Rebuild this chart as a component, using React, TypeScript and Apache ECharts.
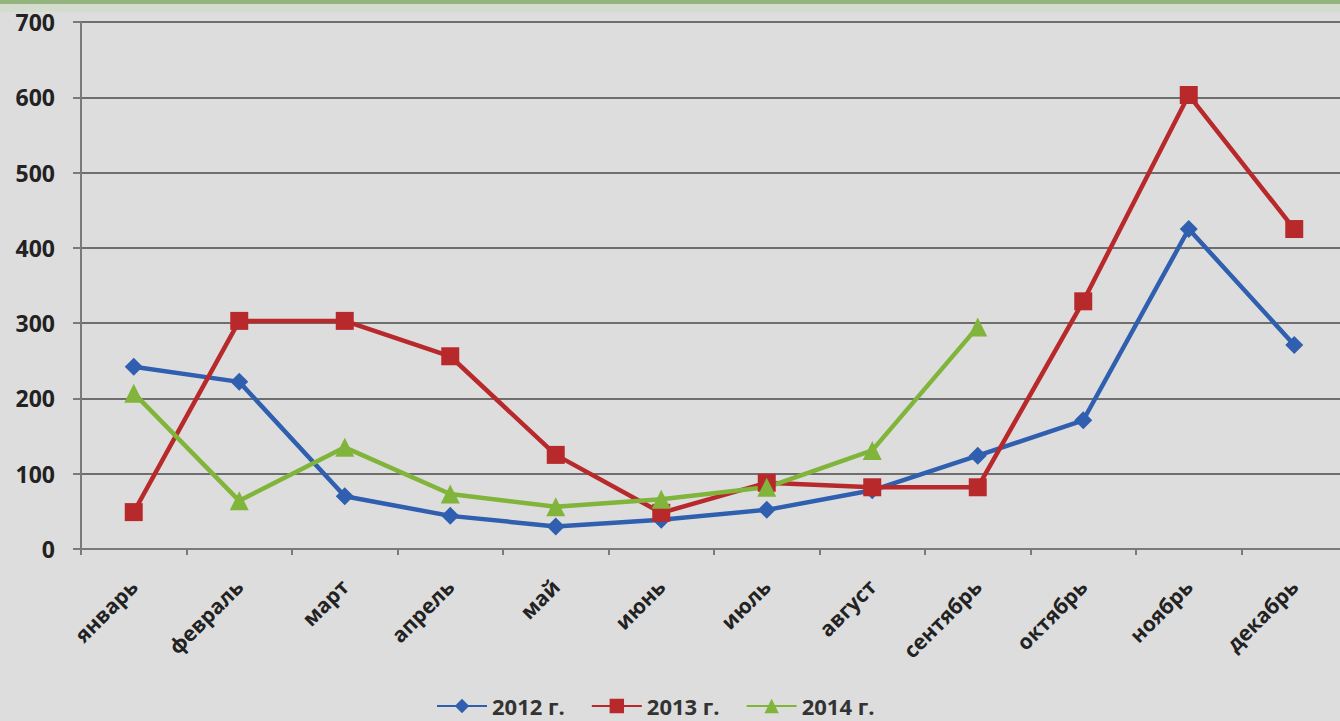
import React, { useEffect, useRef } from "react";
import * as echarts from "echarts";

const months = ["январь", "февраль", "март", "апрель", "май", "июнь", "июль", "август", "сентябрь", "октябрь", "ноябрь", "декабрь"];
const s2012 = [242, 222, 70, 44, 30, 39, 52, 78, 124, 171, 425, 271];
const s2013 = [49, 303, 303, 256, 125, 48, 88, 82, 82, 329, 603, 425];
const s2014 = [207, 64, 135, 73, 56, 66, 82, 131, 295];
const yTicks = [0, 100, 200, 300, 400, 500, 600, 700];

export default function App() {
  const ref = useRef<HTMLDivElement>(null);
  useEffect(() => {
    const chart = echarts.init(ref.current!, null, { renderer: "svg" });
    const font = "'Open Sans', 'DejaVu Sans', sans-serif";
    const mk = (name: string, data: number[], color: string, symbol: string, size: number) => ({
      name,
      type: "line",
      data,
      symbol,
      symbolSize: size,
      showAllSymbol: true,
      lineStyle: { color, width: 4.5 },
      itemStyle: { color },
    });
    chart.setOption({
      animation: false,
      backgroundColor: "#dddddd",
      textStyle: { fontFamily: font },
      graphic: [
        { type: "rect", shape: { x: 0, y: 0, width: 1348, height: 4 }, style: { fill: "#93b47e" }, silent: true },
        { type: "rect", shape: { x: 0, y: 4, width: 1348, height: 8 }, style: { fill: "#d3dccd" }, silent: true },
      ],
      grid: { left: 81, right: 1, top: 22, bottom: 172, containLabel: false },
      legend: {
        bottom: 3,
        left: 436,
        padding: 0,
        itemWidth: 50,
        itemHeight: 18,
        itemGap: 26,
        textStyle: { fontFamily: font, fontWeight: "bold", fontSize: 22, lineHeight: 24, color: "#333" },
        data: ["2012 г.", "2013 г.", "2014 г."],
      },
      xAxis: {
        type: "category",
        data: months,
        boundaryGap: true,
        axisLine: { lineStyle: { color: "#7a7a7a", width: 2 } },
        axisTick: { show: true, length: 6, lineStyle: { color: "#7a7a7a", width: 2 } },
        axisLabel: { rotate: 45, margin: 34, fontFamily: font, fontWeight: "bold", fontSize: 21, color: "#222", interval: 0 },
      },
      yAxis: {
        type: "value",
        min: yTicks[0],
        max: yTicks[yTicks.length - 1],
        interval: 100,
        axisLine: { show: true, lineStyle: { color: "#7a7a7a", width: 2 } },
        axisTick: { show: true, length: 8, lineStyle: { color: "#7a7a7a", width: 2 } },
        axisLabel: { margin: 26, fontFamily: font, fontWeight: "bold", fontSize: 23, color: "#222" },
        splitLine: { lineStyle: { color: "#6e6e6e", width: 2 } },
      },
      series: [
        mk("2012 г.", s2012, "#2f5fae", "diamond", 18),
        mk("2013 г.", s2013, "#b8292c", "rect", 18),
        mk("2014 г.", s2014, "#80b43a", "triangle", 19),
      ],
    });
    return () => chart.dispose();
  }, []);
  return <div ref={ref} style={{ position: "fixed", left: 0, top: 0, width: 1348, height: 721 }} />;
}
